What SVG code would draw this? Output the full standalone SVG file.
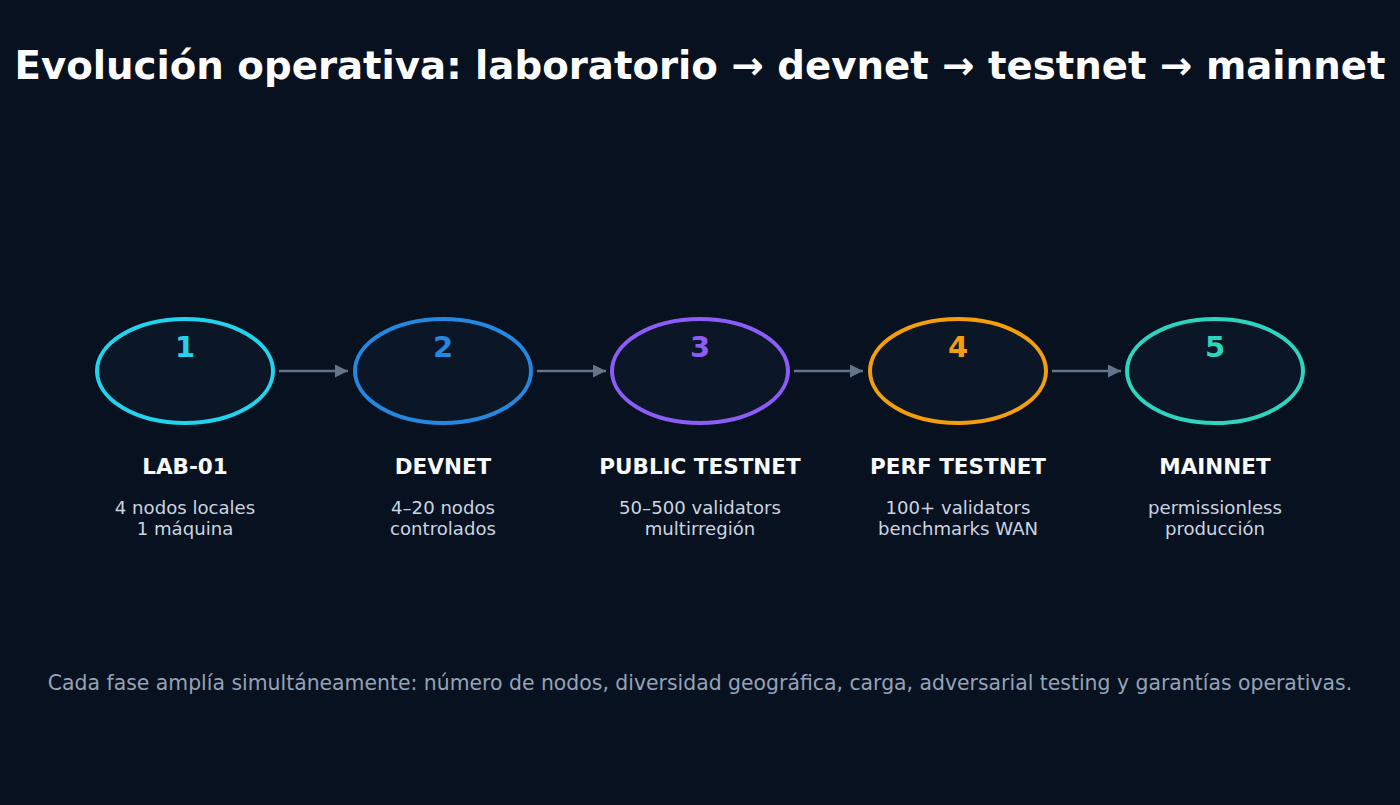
<svg xmlns="http://www.w3.org/2000/svg" width="1400" height="805" viewBox="0 0 1400 805">
<style>
.t{font-family:"DejaVu Sans",sans-serif;text-anchor:middle}
.title{font-size:38.7px;font-weight:bold;fill:#ffffff}
.num{font-size:29px;font-weight:bold}
.lab{font-size:21.5px;font-weight:bold;fill:#f8fafc}
.sub{font-size:18.1px;fill:#cbd5e1}
.foot{font-size:20.4px;fill:#94a3b8}
.ring{fill:#0b1626;stroke-width:4}
.arr{stroke:#64748b;stroke-width:2.5;fill:none}
</style>
<defs>
<marker id="ah" viewBox="0 0 10 10" refX="10" refY="5" markerWidth="13" markerHeight="13" markerUnits="userSpaceOnUse" orient="auto">
<path d="M0,0 L10,5 L0,10 z" fill="#64748b"/>
</marker>
</defs>
<rect width="1400" height="805" fill="#08111f"/>
<text class="t title" x="700" y="79">Evolución operativa: laboratorio → devnet → testnet → mainnet</text>
<g id="connectors">
<line class="arr" x1="279" y1="371" x2="348" y2="371" marker-end="url(#ah)"/>
<line class="arr" x1="537" y1="371" x2="606" y2="371" marker-end="url(#ah)"/>
<line class="arr" x1="794" y1="371" x2="863" y2="371" marker-end="url(#ah)"/>
<line class="arr" x1="1052" y1="371" x2="1121" y2="371" marker-end="url(#ah)"/>
</g>
<g id="n1">
<ellipse class="ring" cx="185" cy="371" rx="88" ry="52" stroke="#22d3ee"/>
<text class="t num" x="185" y="357" fill="#22d3ee">1</text>
<text class="t lab" x="185" y="474">LAB-01</text>
<text class="t sub" x="185" y="514">4 nodos locales</text>
<text class="t sub" x="185" y="535">1 máquina</text>
</g>
<g id="n2">
<ellipse class="ring" cx="443" cy="371" rx="88" ry="52" stroke="#2588e0"/>
<text class="t num" x="443" y="357" fill="#2588e0">2</text>
<text class="t lab" x="443" y="474">DEVNET</text>
<text class="t sub" x="443" y="514">4–20 nodos</text>
<text class="t sub" x="443" y="535">controlados</text>
</g>
<g id="n3">
<ellipse class="ring" cx="700" cy="371" rx="88" ry="52" stroke="#8b5cf6"/>
<text class="t num" x="700" y="357" fill="#8b5cf6">3</text>
<text class="t lab" x="700" y="474">PUBLIC TESTNET</text>
<text class="t sub" x="700" y="514">50–500 validators</text>
<text class="t sub" x="700" y="535">multirregión</text>
</g>
<g id="n4">
<ellipse class="ring" cx="958" cy="371" rx="88" ry="52" stroke="#f59e0b"/>
<text class="t num" x="958" y="357" fill="#f59e0b">4</text>
<text class="t lab" x="958" y="474">PERF TESTNET</text>
<text class="t sub" x="958" y="514">100+ validators</text>
<text class="t sub" x="958" y="535">benchmarks WAN</text>
</g>
<g id="n5">
<ellipse class="ring" cx="1215" cy="371" rx="88" ry="52" stroke="#2dd4bf"/>
<text class="t num" x="1215" y="357" fill="#2dd4bf">5</text>
<text class="t lab" x="1215" y="474">MAINNET</text>
<text class="t sub" x="1215" y="514">permissionless</text>
<text class="t sub" x="1215" y="535">producción</text>
</g>
<text class="t foot" x="700" y="690">Cada fase amplía simultáneamente: número de nodos, diversidad geográfica, carga, adversarial testing y garantías operativas.</text>
</svg>
